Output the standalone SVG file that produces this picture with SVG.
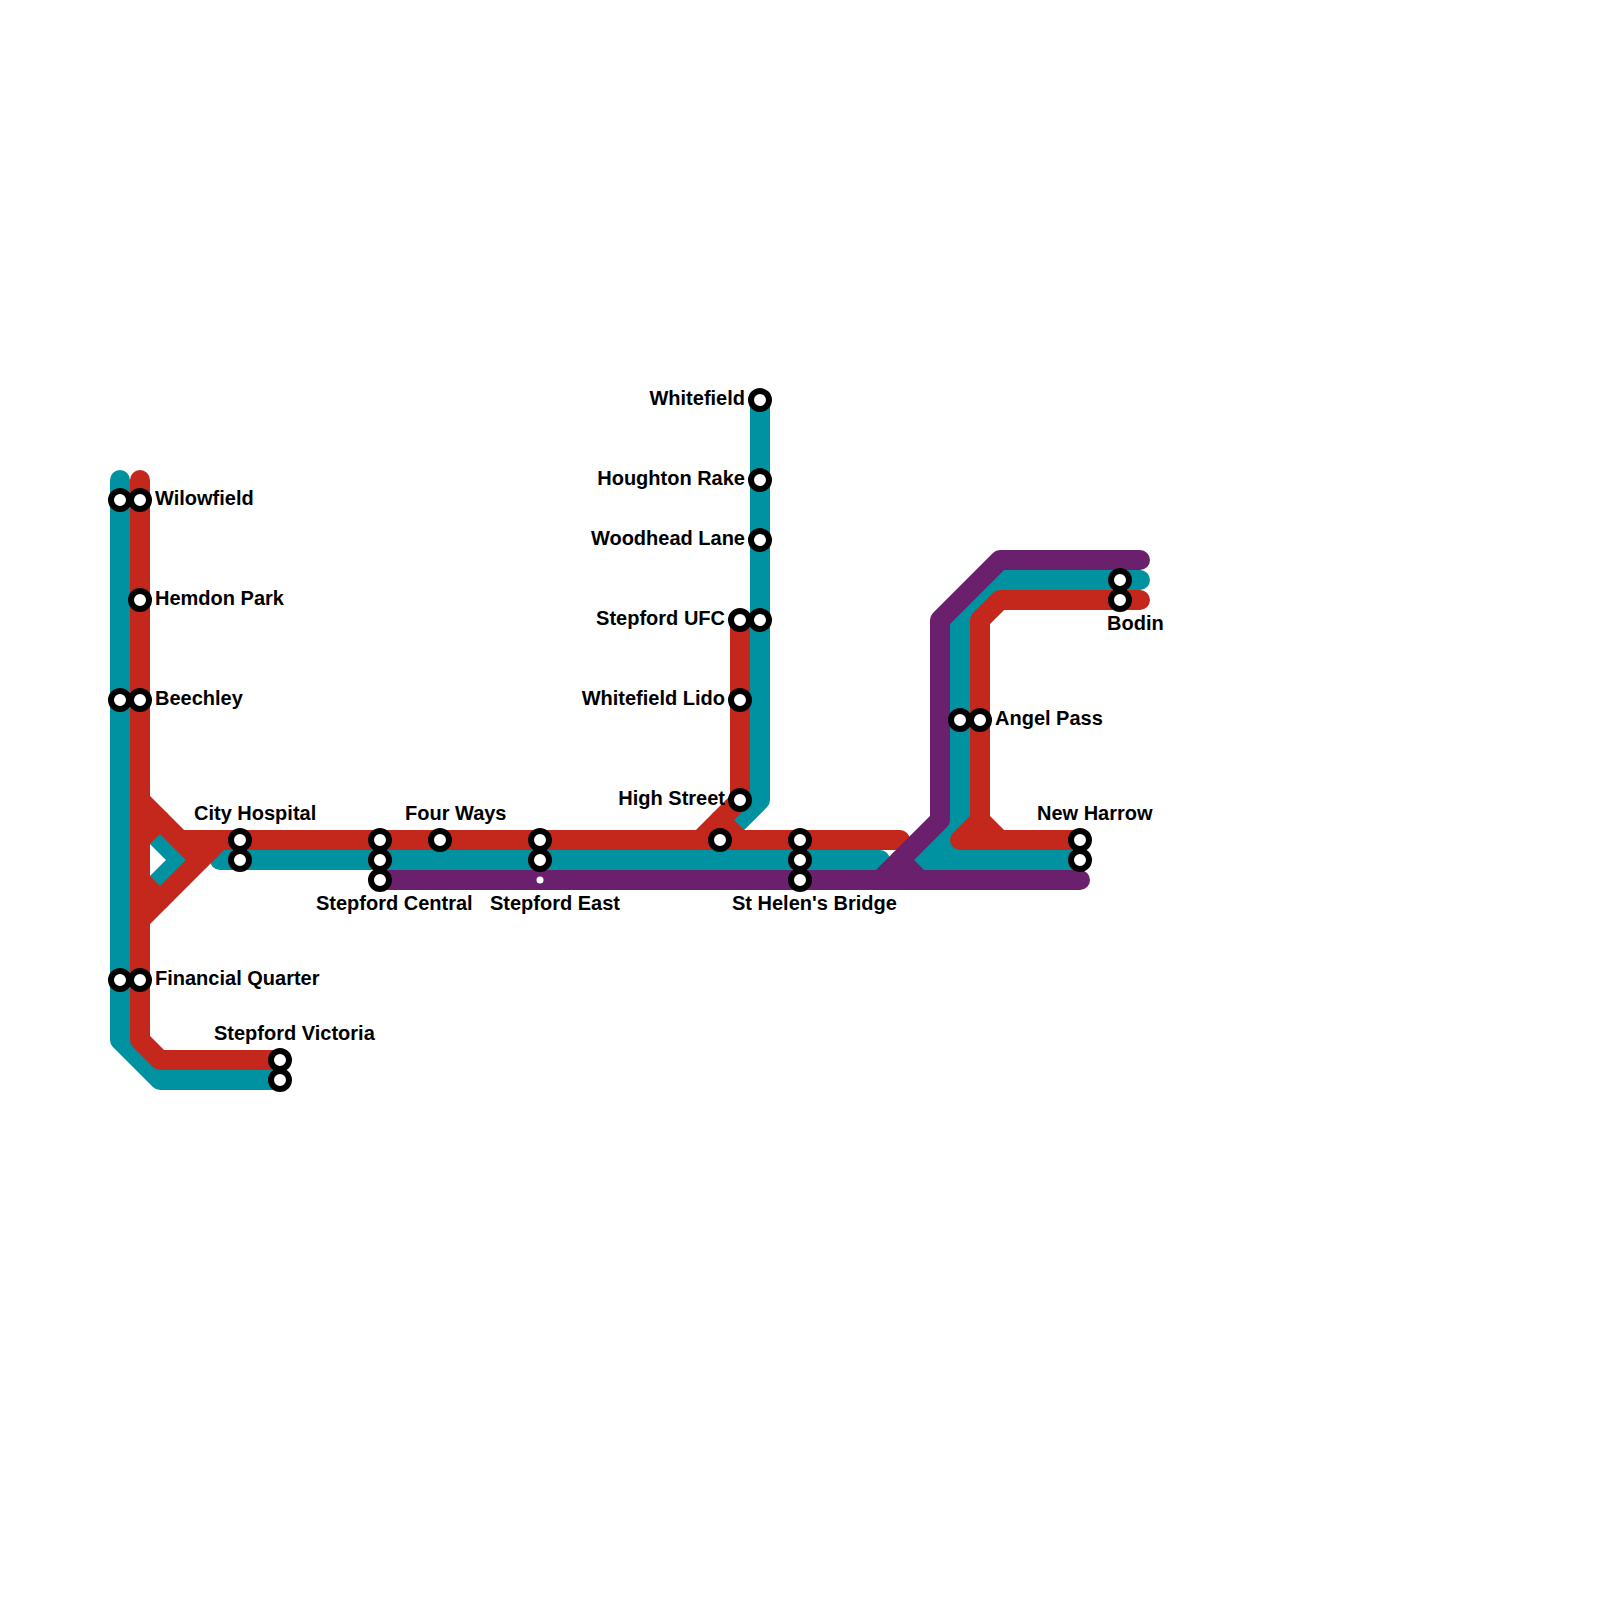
<svg xmlns="http://www.w3.org/2000/svg" width="1600" height="1600" viewBox="0 0 1600 1600">
<style>
.l{fill:none;stroke-width:20;stroke-linecap:round;stroke-linejoin:round}
.t{stroke:#0092a0}.r{stroke:#c4281c}.p{stroke:#6a206c}
.s{fill:#fff;stroke:#000;stroke-width:6}
text{font-family:"Liberation Sans",Arial,sans-serif;font-weight:700;font-size:20px;fill:#000}
.e{text-anchor:end}
</style>
<rect width="1600" height="1600" fill="#fff"/>
<g id="connectors">
<g id="line-teal" class="l t">
<path d="M120 480V1040L160 1080H280"/>
<path d="M120 800L180 860L120 920"/>
<path d="M220 860H880"/>
<path d="M760 400V800L720 840"/>
<path d="M1140 580H1000L960 620V820L920 860H1080"/>
<path d="M920 860L900 880"/>
<path d="M940 840L960 860"/>
</g>
<g id="line-red" class="l r">
<path d="M140 480V1040L160 1060H280"/>
<path d="M140 800L180 840H900"/>
<path d="M180 840L200 860"/>
<path d="M140 920L220 840"/>
<path d="M140 840L160 820"/>
<path d="M140 880L160 900"/>
<path d="M740 620V800L700 840"/>
<path d="M720 820L740 840"/>
<path d="M1140 600H1000L980 620V820L960 840H1080"/>
<path d="M980 820L1000 840"/>
</g>
<g id="line-purple" class="l p">
<path d="M380 880H1080"/>
<path d="M880 880L940 820V620L1000 560H1140"/>
<path d="M900 860L920 880"/>
</g>
</g>
<g id="wilowfield"><circle class="s" cx="120" cy="500" r="9"/><circle class="s" cx="140" cy="500" r="9"/><text x="155" y="505">Wilowfield</text></g>
<g id="hemdon-park"><circle class="s" cx="140" cy="600" r="9"/><text x="155" y="605">Hemdon Park</text></g>
<g id="beechley"><circle class="s" cx="120" cy="700" r="9"/><circle class="s" cx="140" cy="700" r="9"/><text x="155" y="705">Beechley</text></g>
<g id="financial-quarter"><circle class="s" cx="120" cy="980" r="9"/><circle class="s" cx="140" cy="980" r="9"/><text x="155" y="985">Financial Quarter</text></g>
<g id="stepford-victoria"><circle class="s" cx="280" cy="1060" r="9"/><circle class="s" cx="280" cy="1080" r="9"/><text x="214" y="1040">Stepford Victoria</text></g>
<g id="city-hospital"><circle class="s" cx="240" cy="840" r="9"/><circle class="s" cx="240" cy="860" r="9"/><text x="194" y="820">City Hospital</text></g>
<g id="stepford-central"><circle class="s" cx="380" cy="840" r="9"/><circle class="s" cx="380" cy="860" r="9"/><circle class="s" cx="380" cy="880" r="9"/><text x="316" y="910">Stepford Central</text></g>
<g id="four-ways"><circle class="s" cx="440" cy="840" r="9"/><text x="405" y="820">Four Ways</text></g>
<g id="stepford-east"><circle class="s" cx="540" cy="840" r="9"/><circle class="s" cx="540" cy="860" r="9"/><circle cx="540" cy="880" r="3.5" fill="#fff"/><text x="490" y="910">Stepford East</text></g>
<g id="junction"><circle class="s" cx="720" cy="840" r="9"/></g>
<g id="st-helens-bridge"><circle class="s" cx="800" cy="840" r="9"/><circle class="s" cx="800" cy="860" r="9"/><circle class="s" cx="800" cy="880" r="9"/><text x="732" y="910">St Helen's Bridge</text></g>
<g id="whitefield"><circle class="s" cx="760" cy="400" r="9"/><text class="e" x="745" y="405">Whitefield</text></g>
<g id="houghton-rake"><circle class="s" cx="760" cy="480" r="9"/><text class="e" x="745" y="485">Houghton Rake</text></g>
<g id="woodhead-lane"><circle class="s" cx="760" cy="540" r="9"/><text class="e" x="745" y="545">Woodhead Lane</text></g>
<g id="stepford-ufc"><circle class="s" cx="740" cy="620" r="9"/><circle class="s" cx="760" cy="620" r="9"/><text class="e" x="725" y="625">Stepford UFC</text></g>
<g id="whitefield-lido"><circle class="s" cx="740" cy="700" r="9"/><text class="e" x="725" y="705">Whitefield Lido</text></g>
<g id="high-street"><circle class="s" cx="740" cy="800" r="9"/><text class="e" x="725" y="805">High Street</text></g>
<g id="angel-pass"><circle class="s" cx="960" cy="720" r="9"/><circle class="s" cx="980" cy="720" r="9"/><text x="995" y="725">Angel Pass</text></g>
<g id="new-harrow"><circle class="s" cx="1080" cy="840" r="9"/><circle class="s" cx="1080" cy="860" r="9"/><text x="1037" y="820">New Harrow</text></g>
<g id="bodin"><circle class="s" cx="1120" cy="580" r="9"/><circle class="s" cx="1120" cy="600" r="9"/><text x="1107" y="630">Bodin</text></g>
</svg>
